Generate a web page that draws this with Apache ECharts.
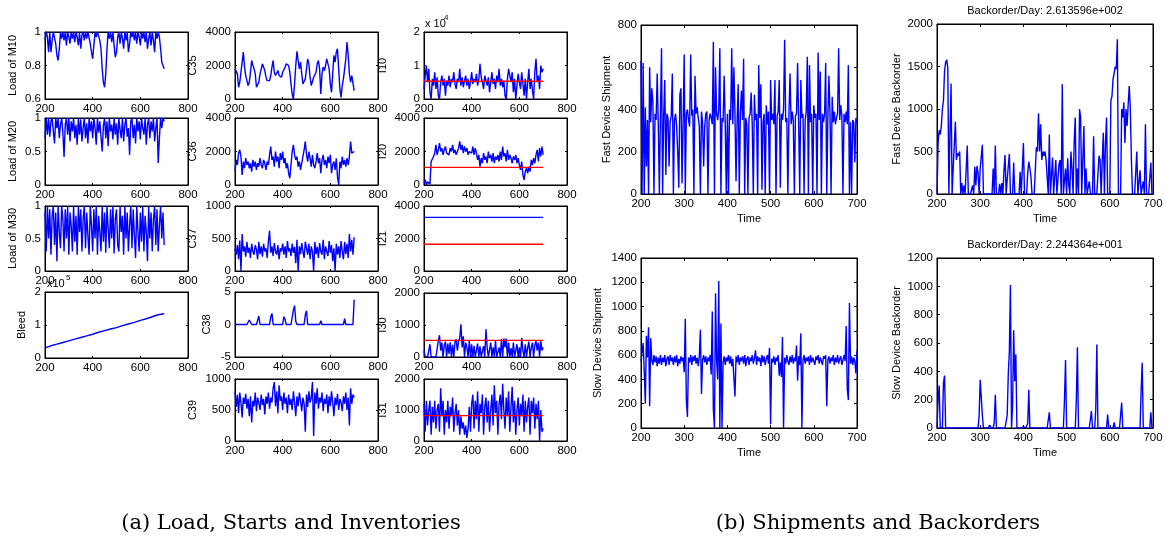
<!DOCTYPE html>
<html><head><meta charset="utf-8">
<script src="https://cdn.jsdelivr.net/npm/echarts@6/dist/echarts.min.js"></script>
<style>html,body{margin:0;padding:0;background:#fff}#c{width:1166px;height:540px}</style>
</head><body><div id="c"></div>
<script>
// ---------- DATA (time runs 200..700, values evenly spaced) ----------
const loadM10 = [0.95,1,0.97,0.88,1,0.88,0.95,1,1,0.93,
 0.86,0.83,0.9,1,0.96,1,0.95,1,0.92,1,
 0.97,0.93,1,0.96,1,0.94,1,0.97,0.92,1,
 0.9,0.98,1,0.95,1,0.96,1,1,0.93,0.88,
 0.84,0.92,1,0.97,1,1,0.95,0.9,0.78,0.7,
 0.67,0.75,0.9,1,0.96,1,0.94,1,0.92,0.85,
 0.88,0.97,1,0.93,1,0.96,0.9,1,0.95,1,
 0.88,0.93,1,0.97,1,0.95,1,0.93,1,0.97,
 0.92,1,0.96,1,0.94,1,0.9,0.96,1,0.92,
 1,0.95,0.88,1,0.96,1,0.97,0.9,0.82,0.8,
 0.78];
const loadM20 = [0.7,1,0.75,1,0.72,0.95,1,0.8,0.62,1,
 0.85,1,0.7,0.9,1,0.78,0.42,0.9,1,0.75,
 1,0.65,0.95,0.8,1,0.7,0.9,0.6,1,0.75,
 0.98,0.65,0.85,1,0.7,0.92,0.62,1,0.8,0.95,
 0.7,1,0.85,0.6,1,0.78,0.95,0.72,0.5,0.88,
 1,0.7,0.95,0.58,1,0.8,0.9,0.68,1,0.75,
 0.92,0.6,1,0.82,0.7,1,0.65,0.9,1,0.72,
 0.85,0.45,0.95,1,0.7,0.9,0.62,1,0.8,0.95,
 0.68,1,0.85,0.75,1,0.6,0.9,1,0.7,0.95,
 0.8,1,0.65,0.85,1,0.33,0.7,1,0.85,1,
 0.95];
const loadM30 = [0.9,0.3,1,0.5,0.95,0.25,0.85,1,0.4,0.9,
 0.15,1,0.6,0.35,1,0.8,0.3,0.95,0.5,1,
 0.25,0.9,0.7,0.3,1,0.45,0.85,0.25,1,0.6,
 0.95,0.3,0.8,1,0.35,0.9,0.55,0.25,1,0.7,
 0.3,0.95,0.5,1,0.25,0.85,0.6,0.3,1,0.45,
 0.9,0.28,1,0.65,0.35,0.95,0.5,1,0.27,0.8,
 0.95,0.4,0.3,1,0.6,0.85,0.25,1,0.5,0.9,
 0.3,0.7,1,0.35,0.95,0.55,0.2,1,0.6,0.3,
 0.9,0.45,1,0.3,0.85,0.6,0.15,1,0.5,0.9,
 0.3,0.8,1,0.4,0.95,0.3,0.7,1,0.5,0.9,
 0.4];
// Bleed in units of 10^5
const bleed = [0.31,0.37,0.42,0.47,0.52,0.57,0.62,0.67,0.72,0.78,0.83,0.88,0.92,0.98,1.03,1.08,1.14,1.19,1.25,1.31,1.34];
const c35 = [1800,1900,1500,700,1000,1100,2200,2800,1900,1400,
 1100,800,1000,1600,2300,2000,1800,1500,700,600,
 1000,1500,1800,2100,2200,1700,1300,1100,1200,1100,
 1400,1900,2300,1600,1400,1500,1700,1400,1500,1300,
 1600,1700,1900,2100,2150,2000,1600,900,300,0,
 900,2000,2850,2300,1800,2200,1500,900,800,1200,
 1800,2400,2100,1300,800,700,1300,1200,1600,2100,
 2300,1800,300,1500,1900,1700,2000,2400,2500,1800,
 900,400,1500,2600,2200,2800,3000,1800,600,100,
 800,1200,1800,2400,3400,2600,1500,1000,1400,1300,
 500];
const c36 = [800,1500,1200,1900,2100,1700,600,1400,1000,1600,
 1200,1400,1000,1300,800,1500,1100,1400,900,1300,
 1100,1600,1200,1000,1500,1300,900,1400,1200,1800,
 2300,1500,1700,1100,2000,1400,1700,1000,1900,1500,
 2000,1300,1600,1000,1300,700,400,1200,2000,2400,
 1800,1500,1700,1100,1400,900,1300,1700,2100,2600,
 1800,1400,2000,1600,1100,1800,1200,1000,1400,1900,
 1300,1600,700,1500,1800,1200,1500,1000,1700,1300,
 1800,700,1200,1400,900,1600,500,0,1400,1000,
 1700,1200,1500,1100,1600,1200,1700,2600,1900,2000,
 2000];
const c37 = [350,250,400,180,470,0,570,300,380,220,
 450,280,360,200,420,300,250,400,330,180,
 450,260,380,220,420,300,350,200,450,620,
 280,380,230,430,300,250,400,180,350,300,
 420,250,380,200,460,300,350,230,420,280,
 370,120,480,0,380,260,430,300,200,450,
 350,250,420,180,380,300,0,450,260,370,
 200,430,300,250,480,180,380,300,230,460,
 280,400,150,350,0,420,250,380,200,460,
 300,180,450,260,420,200,570,300,480,250,
 520];
const c38 = [0,0,0,0,0,0,0,0,0,0,
 0,0,0.7,0.5,0,0,0,0,0,0,
 1.3,0,0,0,0,0,0,0,0,0,
 1.2,1.7,0,0,0,0,0,0,0,0,
 0,1.2,0.8,0,0,0,0,0,0,2.2,
 2.9,0.5,0,0,0,0,0,0,0,1.5,
 2.1,0,0,0,0,0,0,0,0.3,0,
 0,0,0.6,0,0,0,0,0,0,0,
 0,0,0,0,0,0,0,0,0,0,
 0,0,0.9,0,0,0,0,0,0,0,
 3.8];
const c39 = [800,550,750,450,780,620,380,700,600,760,
 520,680,400,720,300,650,560,780,480,700,
 620,500,750,580,680,430,720,600,780,520,
 700,620,850,950,560,800,450,900,650,720,
 500,780,600,700,450,750,580,680,500,800,
 620,400,720,560,780,650,480,700,600,150,
 750,550,800,620,700,950,80,780,600,850,
 520,700,620,780,480,680,600,750,450,720,
 560,800,620,400,700,580,760,500,680,620,
 480,720,600,780,500,700,250,850,600,750,
 700];
const i10 = [3000,7000,10000,5000,9000,2000,0,6000,4000,8000,
 3000,6500,1000,0,5000,7000,4000,6000,1000,5500,
 4000,7000,3500,6000,5000,8000,4500,3000,6000,5000,
 9000,4000,6500,3500,5500,7000,4000,6000,3000,5000,
 8000,4500,6000,5000,7500,4000,6000,10500,6500,5000,
 3000,7000,5500,4000,6500,2000,5000,8000,4500,6000,
 3000,7000,5000,9000,4000,6000,3500,5500,1000,0,
 6000,9000,7000,5000,8000,2000,6000,0,4000,7500,
 5000,3000,8000,4500,1000,6000,0,5000,9000,3000,
 6000,2500,0,8000,12000,5000,7000,3000,10000,8000,
 9000];
const i10Target = [5300,5300];
const i20 = [100,300,0,200,300,50,1400,1500,1700,1900,
 2400,1800,2100,2500,2000,2200,1800,2100,2300,1900,
 2000,1800,2200,2000,2400,1900,2100,1800,2000,2200,
 2600,2100,2400,1900,2300,2000,2200,1800,2000,2100,
 1900,2300,1800,2200,1900,1500,1800,1100,1600,1300,
 1900,1500,1700,1300,2000,1600,1800,1400,1900,1300,
 1700,1500,1800,1400,2000,1500,2300,1700,1900,1400,
 2100,1500,1800,1600,1300,1700,1500,1800,1300,1600,
 1200,900,1400,600,300,800,1000,700,1100,800,
 1500,1200,1600,1300,1800,2100,1400,2200,1700,2300,
 1800];
const i20Target = [1050,1050];
const i21 = [3300,3300];
const i21Target = [1650,1650];
const i30 = [200,0,0,0,0,400,0,0,0,0,
 0,0,500,680,200,450,0,350,480,0,
 420,100,460,0,380,0,470,550,200,480,
 600,1020,300,650,0,450,300,0,520,0,
 400,0,350,0,0,420,0,330,0,0,
 340,0,870,300,0,0,450,0,300,0,
 520,0,0,300,0,560,0,580,300,580,
 0,450,0,280,0,450,0,0,400,0,
 300,0,600,200,0,400,0,300,480,0,
 300,450,0,380,500,200,450,0,500,200,
 300];
const i30Target = [520,520];
const i31 = [1200,300,1300,500,1000,1300,200,1100,600,1300,
 400,1000,1200,300,1700,800,1300,200,1000,600,
 1300,400,1100,800,1400,300,900,1200,500,1000,
 200,800,400,600,200,500,100,400,1100,300,
 1200,1500,400,1300,700,1600,300,1200,900,1500,
 200,1100,1400,600,1300,300,1000,1500,500,1800,
 900,1300,200,1200,1500,700,1850,1000,400,1400,
 800,1600,300,1100,1750,600,1300,200,1000,1400,
 500,1200,800,1500,300,1300,600,1100,1400,200,
 1300,900,1400,400,1200,700,1300,0,1000,300,
 400];
const i31Target = [820,820];
// right-hand panels: 201 values, every 2.5 days
const fastShip = [630,0,620,0,410,130,350,0,600,340,
 500,440,0,380,350,570,330,0,380,690,
 0,370,540,90,380,360,130,340,370,570,
 0,350,380,320,200,30,470,500,50,330,
 660,0,380,400,350,320,660,370,400,0,
 560,380,410,360,320,0,390,340,130,320,
 380,390,0,350,380,360,330,720,0,600,
 380,350,400,690,0,360,340,560,330,0,
 380,0,400,350,690,330,600,380,60,350,
 520,0,380,490,350,640,0,360,330,0,
 360,380,480,330,0,470,350,380,0,610,
 360,520,20,340,380,0,420,330,390,0,
 540,350,380,330,540,0,370,390,540,30,
 380,350,400,730,340,360,0,380,570,330,
 390,350,0,370,380,620,330,0,540,360,
 380,0,350,390,650,0,610,340,380,0,
 420,360,380,0,670,350,580,0,380,340,
 380,620,0,360,560,380,0,460,340,390,
 330,360,380,690,350,420,370,0,380,340,
 390,330,610,0,340,0,350,340,150,360,
 330];
const fastBack = [0,600,750,700,800,1000,1100,1450,1550,1580,
 1480,0,700,1300,0,300,280,850,400,480,
 450,500,0,130,0,100,0,0,570,0,
 0,0,0,100,0,320,100,330,250,0,
 300,440,580,0,0,0,0,0,0,0,
 0,0,300,0,570,0,0,0,120,0,
 130,0,270,460,0,0,330,470,0,0,
 0,370,0,0,0,0,0,260,0,0,
 600,0,0,0,250,380,300,200,0,0,
 0,0,550,500,950,500,820,400,500,450,
 500,400,200,0,700,0,0,430,0,0,
 400,0,0,350,400,0,1290,0,0,300,
 0,420,100,0,500,300,0,600,900,0,
 300,0,1000,900,0,0,800,0,300,0,
 0,150,0,0,0,680,0,0,0,0,
 450,400,0,400,720,0,600,900,0,0,
 0,1100,1150,1350,1420,1500,1470,1820,0,0,
 0,1000,900,1080,600,1000,800,1050,1270,1000,
 400,0,0,0,0,500,0,0,280,0,
 0,150,0,820,0,0,0,0,370,0,
 0];
const slowShip = [550,560,700,470,200,760,580,830,180,740,
 560,520,600,540,590,510,580,530,600,520,
 580,540,600,510,570,590,520,600,550,580,
 520,590,540,600,510,570,530,590,550,580,
 460,900,230,90,580,540,600,520,590,550,
 600,530,580,510,590,810,280,560,600,540,
 590,520,580,550,600,440,960,150,0,1110,
 560,400,1210,0,860,0,540,590,520,580,
 550,600,530,590,510,570,560,260,590,540,
 600,520,580,550,590,530,600,510,570,590,
 520,580,550,600,530,570,640,520,590,550,
 580,510,600,540,590,520,570,600,530,660,
 30,570,540,590,520,580,550,600,430,540,
 420,750,0,580,530,600,550,520,590,540,
 600,530,580,550,680,390,590,520,780,0,
 560,600,530,580,550,590,520,600,540,580,
 550,520,590,560,600,530,580,550,520,590,
 570,600,180,560,590,530,580,550,600,520,
 580,540,600,530,570,590,520,560,600,550,
 840,320,230,1030,530,590,520,580,550,450,
 640];
const slowBack = [0,200,300,0,0,0,320,370,0,0,
 0,0,0,0,0,0,0,0,0,0,
 0,0,0,0,0,0,0,0,0,0,
 0,0,0,0,0,0,0,0,0,80,
 340,340,90,0,0,0,0,0,0,20,
 0,0,0,40,235,0,0,0,0,0,
 0,0,0,0,0,90,380,540,1010,0,
 160,690,330,520,0,0,0,0,0,0,
 10,0,0,0,30,270,0,0,0,0,
 0,0,0,0,0,0,0,0,0,0,
 0,0,0,0,110,0,0,0,0,0,
 0,0,0,0,0,0,0,0,190,480,
 0,0,0,0,0,0,0,0,0,190,
 570,0,0,0,0,0,0,0,0,0,
 0,0,0,120,0,0,0,130,590,0,
 0,0,0,0,0,0,0,0,95,0,
 0,0,0,0,40,0,0,0,0,0,
 0,180,0,0,0,0,0,0,0,0,
 0,0,0,0,0,0,0,0,0,260,
 460,0,0,0,0,0,0,0,110,0,
 0];
const leftTicks = [200, 800, 200];
const rightTicks = [200, 700, 100];
const fastTitle = 'Backorder/Day: 2.613596e+002';
const slowTitle = 'Backorder/Day: 2.244364e+001';

// ---------- BUILD ----------
const FONT = '"Liberation Sans", Arial, Helvetica, sans-serif';
const BLUE = '#0000ff', RED = '#ff0000';
function pts(arr, x0, x1) {
  const n = arr.length, step = (x1 - x0) / (n - 1);
  return arr.map((v, i) => [x0 + i * step, v]);
}
const T0 = 200, T1 = 700;
const plain = v => String(v);
const panels = [
  {box:[45,32,143,67], x:leftTicks, y:[0.6,1,0.2], name:'Load of M10', gap:27, lines:[[loadM10,BLUE]]},
  {box:[45,118,143,67], x:leftTicks, y:[0,1,0.5], name:'Load of M20', gap:27, lines:[[loadM20,BLUE]]},
  {box:[45,206,143,65], x:leftTicks, y:[0,1,0.5], name:'Load of M30', gap:27, lines:[[loadM30,BLUE]]},
  {box:[45,292,143,66], x:leftTicks, y:[0,2,1], name:'Bleed', gap:18, lines:[[bleed,BLUE]]},
  {box:[235,32,143,67], x:leftTicks, y:[0,4000,2000], name:'C35', gap:37, lines:[[c35,BLUE]]},
  {box:[235,118,143,67], x:leftTicks, y:[0,4000,2000], name:'C36', gap:37, lines:[[c36,BLUE]]},
  {box:[235,206,143,65], x:leftTicks, y:[0,1000,500], name:'C37', gap:37, lines:[[c37,BLUE]]},
  {box:[235,292,143,65], x:leftTicks, y:[-5,5,5], name:'C38', gap:23, lines:[[c38,BLUE]]},
  {box:[235,379,143,62], x:leftTicks, y:[0,1000,500], name:'C39', gap:37, lines:[[c39,BLUE]]},
  {box:[424,32,143,67], x:leftTicks, y:[0,20000,10000], fmt:v=>String(v/10000), name:'I10', gap:36, lines:[[i10,BLUE],[i10Target,RED]]},
  {box:[424,118,143,67], x:leftTicks, y:[0,4000,2000], name:'I20', gap:36, lines:[[i20,BLUE],[i20Target,RED]]},
  {box:[424,206,143,65], x:leftTicks, y:[0,4000,2000], name:'I21', gap:36, lines:[[i21,BLUE],[i21Target,RED]]},
  {box:[424,293,143,64], x:leftTicks, y:[0,2000,1000], name:'I30', gap:36, lines:[[i30,BLUE],[i30Target,RED]]},
  {box:[424,379,143,62], x:leftTicks, y:[0,2000,1000], name:'I31', gap:36, lines:[[i31,BLUE],[i31Target,RED]]},
  {box:[641,25,216,169], x:rightTicks, y:[0,800,200], name:'Fast Device Shipment', gap:29, xname:'Time', lines:[[fastShip,BLUE]], tick:3},
  {box:[937,24,216,170], x:rightTicks, y:[0,2000,500], name:'Fast Device Backorder', gap:35, xname:'Time', lines:[[fastBack,BLUE]], tick:3},
  {box:[641,258,216,170], x:rightTicks, y:[0,1400,200], name:'Slow Device Shipment', gap:38, xname:'Time', lines:[[slowShip,BLUE]], tick:3},
  {box:[937,258,216,170], x:rightTicks, y:[0,1200,200], name:'Slow Device Backorder', gap:35, xname:'Time', lines:[[slowBack,BLUE]], tick:3},
];

const grid = [], xAxis = [], yAxis = [], series = [];
const txt = {color:'#000', fontSize:11.5, fontFamily:FONT};
const nameTxt = {color:'#000', fontSize:11, fontFamily:FONT};
panels.forEach((p, i) => {
  const b = p.box, tl = p.tick || 2;
  grid.push({left:b[0], top:b[1], width:b[2], height:b[3], show:true, borderColor:'#000', borderWidth:1,
    backgroundColor:'rgba(0,0,0,0)', containLabel:false, outerBoundsMode:'none'});
  const base = (pos) => ({gridIndex:i, type:'value', position:pos, splitLine:{show:false},
    axisLine:{show:true, onZero:false, lineStyle:{color:'#000', width:1}},
    axisTick:{show:true, inside:true, length:tl, lineStyle:{color:'#000', width:1}}});
  xAxis.push(Object.assign(base('bottom'), {min:p.x[0], max:p.x[1], interval:p.x[2],
    axisLabel:Object.assign({margin:4, formatter:plain}, txt),
    name:p.xname || '', nameLocation:'middle', nameGap:19, nameTextStyle:nameTxt}));
  xAxis.push(Object.assign(base('top'), {min:p.x[0], max:p.x[1], interval:p.x[2], axisLabel:{show:false}}));
  yAxis.push(Object.assign(base('left'), {min:p.y[0], max:p.y[1], interval:p.y[2],
    axisLabel:Object.assign({margin:4, formatter:p.fmt || plain}, txt),
    name:p.name, nameLocation:'middle', nameGap:p.gap, nameTextStyle:nameTxt}));
  yAxis.push(Object.assign(base('right'), {min:p.y[0], max:p.y[1], interval:p.y[2], axisLabel:{show:false}}));
  p.lines.forEach(([arr, col]) => {
    series.push({type:'line', xAxisIndex:2*i, yAxisIndex:2*i, data:pts(arr, T0, T1),
      showSymbol:false, symbol:'none', silent:true, animation:false, z: col === RED ? 3 : 2,
      lineStyle:{color:col, width:1.4}, itemStyle:{color:col}});
  });
});

const capStyle = {fontFamily:'"DejaVu Serif", "Liberation Serif", serif', fontSize:21, fontWeight:'normal', color:'#000'};
const titStyle = {fontFamily:FONT, fontSize:11, fontWeight:'normal', color:'#000'};
const option = {
  animation:false,
  backgroundColor:'#fff',
  grid, xAxis, yAxis, series,
  title:[
    {text:fastTitle, left:1045, top:5, textAlign:'center', padding:0, textStyle:titStyle},
    {text:slowTitle, left:1045, top:239, textAlign:'center', padding:0, textStyle:titStyle},
    {text:'(a) Load, Starts and Inventories', left:291, top:513, textAlign:'center', padding:0, textStyle:capStyle},
    {text:'(b) Shipments and Backorders', left:878, top:513, textAlign:'center', padding:0, textStyle:capStyle}
  ],
  graphic:[
    {type:'text', left:425, top:18, style:{text:'x 10', fontSize:11, fontFamily:FONT, fill:'#000'}},
    {type:'text', left:444, top:14, style:{text:'4', fontSize:8, fontFamily:FONT, fill:'#000'}},
    {type:'text', left:47, top:278, style:{text:'x10', fontSize:11, fontFamily:FONT, fill:'#000'}},
    {type:'text', left:66, top:274, style:{text:'5', fontSize:8, fontFamily:FONT, fill:'#000'}}
  ]
};
const chart = echarts.init(document.getElementById('c'), null, {renderer:'canvas', width:1166, height:540});
chart.setOption(option);
</script>
</body></html>
